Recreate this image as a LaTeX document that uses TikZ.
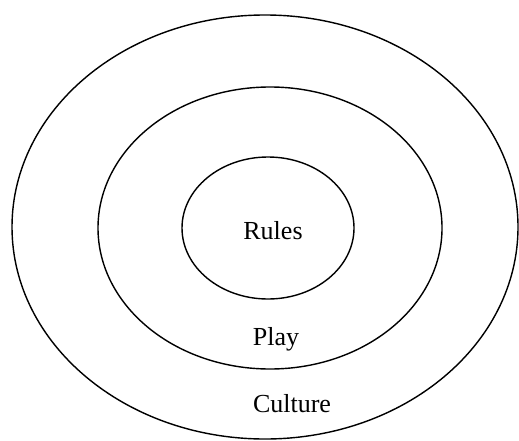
\documentclass[tikz,border=0pt]{standalone}
\usepackage{fontspec}
\setmainfont{Liberation Serif}
\usepackage{tikz}

\begin{document}
\begin{tikzpicture}[x=0.02cm,y=0.02cm,line width=0.8pt,
    ring/.style={draw=black},
    word/.style={anchor=base,inner sep=0pt,font=\fontsize{14.8}{17}\selectfont}]
  \useasboundingbox (0,0) rectangle (519,440);

  % the three rings
  \draw[ring] (265,213) ellipse [x radius=253, y radius=212];
  \draw[ring] (270,212) ellipse [x radius=172, y radius=141];
  \draw[ring] (268,212) ellipse [x radius=86,  y radius=71];

  \node[word] (Rules)   at (273,201) {Rules};
  \node[word] (Play)    at (276,95)  {Play};
  \node[word] (Culture) at (292,28)  {Culture};
\end{tikzpicture}
\end{document}
